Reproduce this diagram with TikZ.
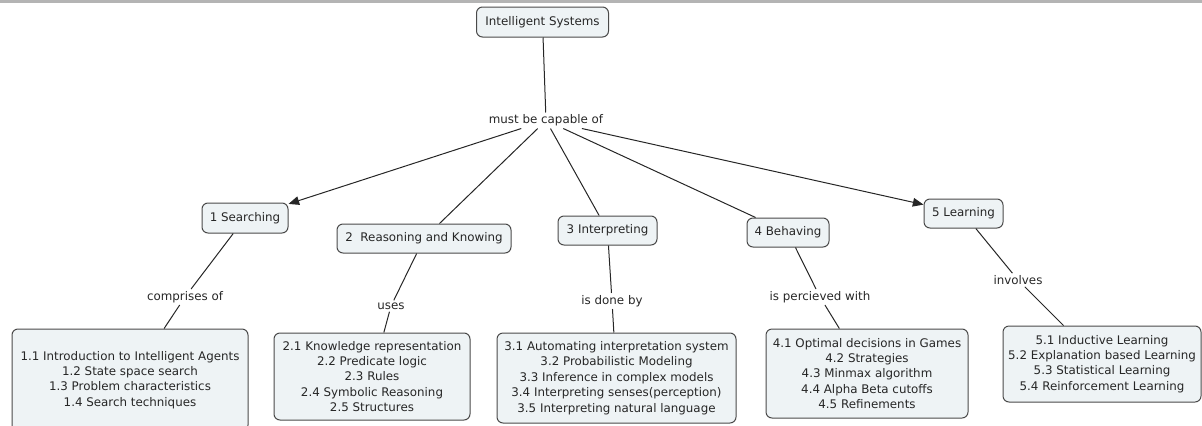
\documentclass[tikz,border=0pt]{standalone}
\usepackage{fontspec}
\setmainfont{DejaVu Sans}
\usetikzlibrary{arrows.meta}
\definecolor{boxfill}{HTML}{EEF3F5}
\definecolor{boxline}{HTML}{4A4A4A}
\definecolor{ink}{HTML}{262626}
\definecolor{topbar}{HTML}{B4B4B4}
\begin{document}
\begin{tikzpicture}[x=0.75pt,y=-0.75pt,
  every node/.style={font=\fontsize{8.9pt}{11.55pt}\selectfont, text=ink},
  concept/.style={draw=boxline, fill=boxfill, rounded corners=4.5pt, line width=0.75pt, align=center, inner sep=0pt},
  linkword/.style={inner sep=1.5pt},
  link/.style={draw=ink, line width=0.75pt},
  arrowlink/.style={link, -{Triangle[length=8pt,width=6.5pt]}}]
\useasboundingbox (0,0) rectangle (1202,425);
\fill[topbar] (0,0) rectangle (1202,3);

% top concept and its linking phrase
\node[concept, minimum width=99pt, minimum height=22.5pt] (is) at (542.5,22) {Intelligent Systems};
\node[linkword] (cap) at (546,120.5) {must be capable of};

% second level concepts
\node[concept, minimum width=64.5pt, minimum height=22.5pt] (s1) at (245,218) {1 Searching};
\node[concept, minimum width=130.5pt, minimum height=21.75pt] (s2) at (424,238.5) {2~ Reasoning and Knowing};
\node[concept, minimum width=74.25pt, minimum height=21.75pt] (s3) at (607.5,230.5) {3 Interpreting};
\node[concept, minimum width=61.5pt, minimum height=21.75pt] (s4) at (788,232.5) {4 Behaving};
\node[concept, minimum width=59.25pt, minimum height=21.75pt] (s5) at (963.5,213.5) {5 Learning};

% linking phrases below the second level
\node[linkword] (comp) at (185,297) {comprises of};
\node[linkword] (uses) at (391,306) {uses};
\node[linkword] (done) at (612,301) {is done by};
\node[linkword] (perc) at (820,297) {is percieved with};
\node[linkword] (invo) at (1018,280) {involves};

% topic lists
\node[concept, minimum width=177pt, minimum height=76.5pt] (b1) at (130,380)
  {1.1 Introduction to Intelligent Agents\\1.2 State space search\\1.3 Problem characteristics\\1.4 Search techniques};
\node[concept, minimum width=147pt, minimum height=65.25pt] (b2) at (372,376.5)
  {2.1 Knowledge representation\\2.2 Predicate logic\\2.3 Rules\\2.4 Symbolic Reasoning\\2.5 Structures};
\node[concept, minimum width=179.25pt, minimum height=67.5pt] (b3) at (616.5,378)
  {3.1 Automating interpretation system\\3.2 Probabilistic Modeling\\3.3 Inference in complex models\\3.4 Interpreting senses(perception)\\3.5 Interpreting natural language};
\node[concept, minimum width=151.5pt, minimum height=66.75pt] (b4) at (867,373.5)
  {4.1 Optimal decisions in Games\\4.2 Strategies\\4.3 Minmax algorithm\\4.4 Alpha Beta cutoffs\\4.5 Refinements};
\node[concept, minimum width=148.5pt, minimum height=57pt] (b5) at (1102,364)
  {5.1 Inductive Learning\\5.2 Explanation based Learning\\5.3 Statistical Learning\\5.4 Reinforcement Learning};

% connectors
\draw[link] (is) -- (cap);
\draw[arrowlink] (cap) -- (s1);
\draw[link] (cap) -- (s2);
\draw[link] (cap) -- (s3);
\draw[link] (cap) -- (s4);
\draw[arrowlink] (cap) -- (s5);

\draw[link] (s1) -- (comp) -- (b1);
\draw[link] (s2) -- (uses) -- (b2);
\draw[link] (s3) -- (done) -- (b3);
\draw[link] (s4) -- (perc) -- (b4);
\draw[link] (s5) -- (invo) -- (b5);
\end{tikzpicture}
\end{document}
